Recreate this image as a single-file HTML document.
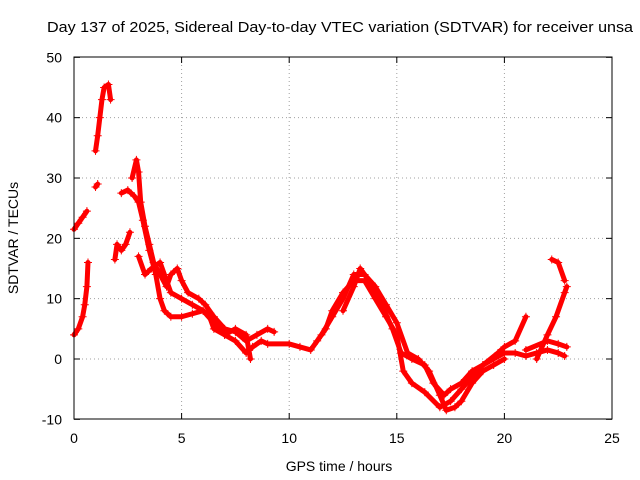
<!DOCTYPE html>
<html><head><meta charset="utf-8"><style>
body{margin:0;background:#fff;}
svg{display:block;font-family:"Liberation Sans",sans-serif;}
</style></head><body>
<svg id="chart" width="640" height="480">
<rect x="0" y="0" width="640" height="480" fill="#fff"/>
<text x="47" y="32" font-size="15" textLength="586" lengthAdjust="spacingAndGlyphs">Day 137 of 2025, Sidereal Day-to-day VTEC variation (SDTVAR) for receiver unsa</text>
<g id="grid"></g>
<g id="axes"></g>
<g id="series"></g>
<rect x="74" y="57" width="538" height="362" fill="none" stroke="#000" stroke-width="1"/>
<text x="339" y="471" font-size="14" text-anchor="middle">GPS time / hours</text>
<text x="18" y="238" font-size="14" text-anchor="middle" transform="rotate(-90 18 238)">SDTVAR / TECUs</text>
</svg>
<script>
const xTicks=[0,5,10,15,20,25];
const yTicks=[-10,0,10,20,30,40,50];
const tr1=[[0,4],[0.2,5],[0.4,7],[0.5,9],[0.6,12],[0.65,16]];
const tr2=[[0,21.5],[0.2,22.5],[0.4,23.5],[0.6,24.5]];
const tr3=[[1.0,28.5],[1.1,29]];
const tr4=[[1.0,34.5],[1.1,37],[1.2,40],[1.3,43],[1.4,45],[1.6,45.5],[1.7,43]];
const tr5=[[1.9,16.5],[2.0,19],[2.2,18],[2.4,19],[2.6,21]];
const tr6=[[2.2,27.5],[2.5,28],[2.8,27],[3.0,26],[3.2,23],[3.5,18],[3.8,14],[4.0,10],[4.2,8],[4.5,7],[5,7],[5.5,7.5],[6,8],[6.3,7],[6.5,5],[7,4],[7.5,3],[8,1],[8.3,2],[8.7,3],[9,2.5],[10,2.5],[10.5,2],[11,1.5],[11.3,3],[11.7,5],[12,8],[12.5,11],[13,13],[13.5,13],[14,10],[14.5,7],[15,4],[15.3,-2],[15.7,-4],[16.3,-5.5],[17,-8],[17.5,-7],[18,-5],[18.5,-3],[19,-1],[19.5,0],[20,1],[20.5,1],[21,0.5],[21.5,1],[22,1.5],[22.5,1],[22.8,0.5]];
const tr7=[[2.7,30],[2.9,33],[3.0,31],[3.1,26],[3.3,22],[3.5,19],[3.7,16],[4.0,14],[4.3,12],[4.5,14],[4.8,15],[5.0,13],[5.3,11],[5.8,10],[6.1,9],[6.5,7],[7,5],[7.5,4.5],[8,3],[8.5,4],[9,5],[9.3,4.5]];
const tr8=[[3.0,17],[3.3,14],[3.6,15],[4,16],[4.5,11],[5,10],[5.5,9],[6,8],[6.5,6],[7,4],[7.5,5],[8,4],[8.2,0]];
const tr9=[[12.5,8],[13,12],[13.3,15],[13.7,13],[14.3,9],[14.8,5],[15.2,1],[15.7,0],[16.3,-1],[16.7,-4],[17.2,-6],[17.5,-5],[18,-4],[18.5,-2],[19,-1],[19.7,1],[20,2],[20.5,3],[21,7]];
const tr10=[[21.5,0],[22,4],[22.4,7],[22.8,11],[22.9,12]];
const tr11=[[22.2,16.5],[22.5,16],[22.8,13]];
const tr12=[[11.5,4],[12,7],[12.5,10],[13,14],[13.5,14],[14,12],[14.5,9],[15,6],[15.5,1],[16,0],[16.5,-2],[17,-6],[17.3,-8.5],[17.7,-8],[18,-7],[18.5,-4],[19,-2],[19.5,-1],[20,0]];
const tr13=[[21,1.5],[22,3],[22.5,2.5],[22.9,2]];
const allTracks=[tr1,tr2,tr3,tr4,tr5,tr6,tr7,tr8,tr9,tr10,tr11,tr12,tr13];
const X=v=>74+v*(538/25), Y=v=>359-v*(362/60);
const NS="http://www.w3.org/2000/svg";
const g=document.getElementById('grid'),ax=document.getElementById('axes'),sg=document.getElementById('series');
function mk(t,a,p){const e=document.createElementNS(NS,t);for(const k in a)e.setAttribute(k,a[k]);p.appendChild(e);return e;}
xTicks.forEach(t=>{const x=X(t);
 if(t>0&&t<25){const l=mk('line',{x1:x,x2:x,y1:57,y2:419,stroke:'#a0a0a0','stroke-dasharray':'1,3'},g);
 
 }
 mk('line',{x1:x,x2:x,y1:419,y2:413,stroke:'#000'},ax);mk('line',{x1:x,x2:x,y1:57,y2:63,stroke:'#000'},ax);
 const tx=mk('text',{x:x,y:443,'font-size':14,'text-anchor':'middle'},ax);tx.textContent=t;
 
 });
yTicks.forEach(t=>{const y=Y(t);
 if(t>-10&&t<50){const l=mk('line',{x1:74,x2:612,y1:y,y2:y,stroke:'#a0a0a0','stroke-dasharray':'1,3'},g);
 
 }
 mk('line',{x1:74,x2:80,y1:y,y2:y,stroke:'#000'},ax);mk('line',{x1:612,x2:606,y1:y,y2:y,stroke:'#000'},ax);
 const tx=mk('text',{x:62,y:y+5,'font-size':14,'text-anchor':'end'},ax);tx.textContent=t;
 
 });
allTracks.forEach(tr=>{
 const pl=mk('polyline',{points:tr.map(p=>X(p[0])+','+Y(p[1])).join(' '),fill:'none',stroke:'#f00','stroke-width':5,'stroke-linejoin':'round','stroke-linecap':'round'},sg);
 
 
 tr.forEach(p=>{const x=X(p[0]),y=Y(p[1]);
  const m=mk('path',{d:`M${x-4},${y}h8M${x},${y-4}v8`,stroke:'#f00','stroke-width':1},sg);
  
  });
});
</script>
</body></html>
